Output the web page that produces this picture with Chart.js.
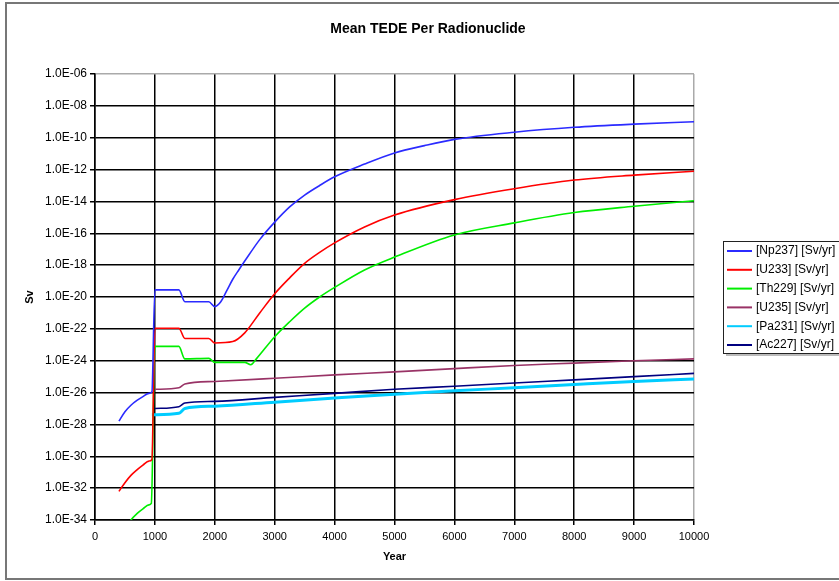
<!DOCTYPE html>
<html>
<head>
<meta charset="utf-8">
<script src="https://cdn.jsdelivr.net/npm/chart.js@4.4.1/dist/chart.umd.min.js"></script>
<style>
    body { margin: 0; background: #fff; }
    #wrap { position: relative; width: 839px; height: 581px; overflow: hidden; }
    #frame { position: absolute; left: 5px; top: 2px; width: 850px; height: 574px; border: 2px solid #777; }
    canvas { position: absolute; left: 0; top: 0; }
</style>
</head>
<body>
<div id="wrap">
    <div id="frame"></div>
    <canvas id="tedeChart" width="839" height="581"></canvas>
</div>
<script>
// series data (year, Sv/yr)
const npYears = [400, 500, 600, 700, 800, 900, 950, 1000, 1400, 1500, 1900, 2000, 2100, 2200, 2300, 2400, 2500, 2750, 3000, 3250, 3500, 3750, 4000, 4500, 5000, 5500, 6000, 7000, 8000, 9000, 10000];
const npValues = [1.6e-28, 6.3e-28, 1.6e-27, 3.2e-27, 5.6e-27, 8.9e-27, 1.1e-26, 2.8e-20, 2.8e-20, 5.0e-21, 5.0e-21, 2.5e-21, 5.0e-21, 2.5e-20, 1.3e-19, 5.0e-19, 1.8e-18, 4.0e-17, 5.0e-16, 4.5e-15, 2.5e-14, 1.0e-13, 3.5e-13, 2.2e-12, 1.1e-11, 3.2e-11, 7.9e-11, 2.2e-10, 4.5e-10, 7.1e-10, 1.0e-9];

const u233Years = [400, 500, 600, 700, 800, 900, 950, 1000, 1400, 1500, 1900, 2000, 2300, 2500, 2750, 3000, 3250, 3500, 3750, 4000, 4500, 5000, 6000, 7000, 8000, 9000, 10000];
const u233Values = [6.3e-33, 2.2e-32, 6.3e-32, 1.4e-31, 2.8e-31, 5.0e-31, 6.3e-31, 1.1e-22, 1.1e-22, 2.5e-23, 2.5e-23, 1.3e-23, 1.6e-23, 5.6e-23, 1.0e-21, 1.6e-20, 1.6e-19, 1.3e-18, 6.3e-18, 2.5e-17, 2.5e-16, 1.4e-15, 1.3e-14, 6.3e-14, 2.2e-13, 4.5e-13, 7.9e-13];

const th229Years = [550, 600, 700, 800, 900, 940, 1000, 1400, 1500, 1900, 2000, 2500, 2600, 2700, 3000, 3250, 3500, 3750, 4000, 4500, 5000, 6000, 7000, 8000, 9000, 10000];
const th229Values = [5.0e-35, 1.0e-34, 2.5e-34, 5.0e-34, 8.9e-34, 1.1e-33, 7.9e-24, 7.9e-24, 1.3e-24, 1.4e-24, 7.9e-25, 7.9e-25, 5.6e-25, 1.4e-24, 3.2e-23, 2.8e-22, 2.0e-21, 1.0e-20, 4.0e-20, 5.0e-19, 3.2e-18, 7.9e-17, 4.5e-16, 2.0e-15, 5.0e-15, 1.1e-14];

const u235Years = [1000, 1400, 1500, 2000, 3000, 4000, 5000, 6000, 7000, 8000, 9000, 10000];
const u235Values = [1.6e-26, 2.0e-26, 3.5e-26, 5.0e-26, 7.9e-26, 1.3e-25, 2.0e-25, 3.2e-25, 5.0e-25, 7.1e-25, 1.0e-24, 1.3e-24];

const pa231Years = [950, 1400, 1500, 2000, 3000, 4000, 5000, 6000, 7000, 8000, 9000, 10000];
const pa231Values = [4.0e-28, 5.0e-28, 1.0e-27, 1.4e-27, 2.5e-27, 4.5e-27, 7.9e-27, 1.3e-26, 2.0e-26, 3.2e-26, 5.0e-26, 7.1e-26];

const ac227Years = [1000, 1400, 1500, 2000, 3000, 4000, 5000, 6000, 7000, 8000, 9000, 10000];
const ac227Values = [1.0e-27, 1.3e-27, 2.2e-27, 2.8e-27, 5.0e-27, 8.9e-27, 1.6e-26, 2.5e-26, 4.0e-26, 6.3e-26, 1.0e-25, 1.6e-25];

const seriesNames = ['[Np237] [Sv/yr]', '[U233] [Sv/yr]', '[Th229] [Sv/yr]', '[U235] [Sv/yr]', '[Pa231] [Sv/yr]', '[Ac227] [Sv/yr]'];

const yTickValues = [1e-34, 1e-32, 1e-30, 1e-28, 1e-26, 1e-24, 1e-22, 1e-20, 1e-18, 1e-16, 1e-14, 1e-12, 1e-10, 1e-8, 1e-6];
const yTickLabels = ['1.0E-34', '1.0E-32', '1.0E-30', '1.0E-28', '1.0E-26', '1.0E-24', '1.0E-22', '1.0E-20', '1.0E-18', '1.0E-16', '1.0E-14', '1.0E-12', '1.0E-10', '1.0E-08', '1.0E-06'];

const chartTitle = 'Mean TEDE Per Radionuclide';
const FONT = "'Liberation Sans', Arial, sans-serif";

function toPoints(years, values) {
    return years.map((year, i) => ({ x: year, y: values[i] }));
}

// title centred on the whole picture, legend off to the right
const sideLegend = {
    id: 'sideLegend',
    afterDraw(chart) {
        const ctx = chart.ctx;
        const left = 723, top = 241, rowH = 18.8;
        ctx.save();
        ctx.fillStyle = '#000';
        ctx.font = 'bold 14px ' + FONT;
        ctx.textAlign = 'center';
        ctx.textBaseline = 'middle';
        ctx.fillText(chartTitle, 428, 29);

        ctx.textAlign = 'left';
        ctx.fillStyle = '#bbb';
        ctx.fillRect(left + 3, top + 3, 140, 112);
        ctx.fillStyle = '#fff';
        ctx.fillRect(left, top, 140, 112);
        ctx.strokeStyle = '#222';
        ctx.lineWidth = 1;
        ctx.strokeRect(left + 0.5, top + 0.5, 140, 112);
        ctx.font = '12px ' + FONT;
        chart.data.datasets.forEach((ds, i) => {
            const y = top + 10 + i * rowH;
            ctx.strokeStyle = ds.borderColor;
            ctx.lineWidth = 2;
            ctx.beginPath();
            ctx.moveTo(727, y);
            ctx.lineTo(752, y);
            ctx.stroke();
            ctx.fillStyle = '#000';
            ctx.fillText(ds.label, 756, y);
        });
        ctx.restore();
    }
};

const ctx = document.getElementById('tedeChart').getContext('2d');
const chart = new Chart(ctx, {
    type: 'line',
    data: {
        datasets: [
            { label: seriesNames[0], data: toPoints(npYears, npValues), borderColor: '#2b2bff', borderWidth: 1.6 },
            { label: seriesNames[1], data: toPoints(u233Years, u233Values), borderColor: '#ff0000', borderWidth: 1.6 },
            { label: seriesNames[2], data: toPoints(th229Years, th229Values), borderColor: '#00ee00', borderWidth: 1.6 },
            { label: seriesNames[3], data: toPoints(u235Years, u235Values), borderColor: '#993366', borderWidth: 1.6 },
            { label: seriesNames[4], data: toPoints(pa231Years, pa231Values), borderColor: '#00ccff', borderWidth: 3 },
            { label: seriesNames[5], data: toPoints(ac227Years, ac227Values), borderColor: '#000080', borderWidth: 1.6 }
        ]
    },
    options: {
        responsive: false,
        animation: false,
        cubicInterpolationMode: 'monotone',
        elements: { point: { radius: 0 } },
        layout: { padding: { top: 74, right: 145, bottom: 0, left: 0 } },
        plugins: {
            legend: { display: false },
            tooltip: { enabled: false },
            title: { display: false }
        },
        scales: {
            x: {
                type: 'linear',
                min: 0,
                max: 10000,
                afterFit: scale => { scale.height = 61; },
                border: { color: '#000', width: 1.5 },
                grid: {
                    color: c => (c.tick && c.tick.value === 10000 ? '#aaa' : '#000'),
                    lineWidth: 1.5,
                    tickLength: 5,
                    tickColor: '#000'
                },
                ticks: {
                    stepSize: 1000,
                    padding: 5,
                    color: '#000',
                    maxRotation: 0,
                    font: { family: FONT, size: 11 },
                    callback: v => String(v)
                },
                title: {
                    display: true,
                    text: 'Year',
                    color: '#000',
                    font: { family: FONT, size: 11, weight: 'bold' },
                    padding: { top: 0, bottom: 17 }
                }
            },
            y: {
                type: 'logarithmic',
                min: 1e-34,
                max: 1e-6,
                afterFit: scale => { scale.width = 95; },
                afterBuildTicks: scale => {
                    scale.ticks = yTickValues.map(v => ({ value: v }));
                },
                border: { color: '#000', width: 1.5 },
                grid: {
                    color: c => (c.tick && c.tick.value === 1e-6 ? '#aaa' : '#000'),
                    lineWidth: 1.5,
                    tickLength: 5,
                    tickColor: '#000'
                },
                ticks: {
                    padding: 3,
                    color: '#000',
                    autoSkip: false,
                    font: { family: FONT, size: 12 },
                    callback: (value, index) => yTickLabels[index]
                },
                title: {
                    display: true,
                    text: 'Sv',
                    color: '#000',
                    font: { family: FONT, size: 11, weight: 'bold' },
                    padding: { top: 23, bottom: 0 }
                }
            }
        }
    },
    plugins: [sideLegend]
});
</script>
</body>
</html>
